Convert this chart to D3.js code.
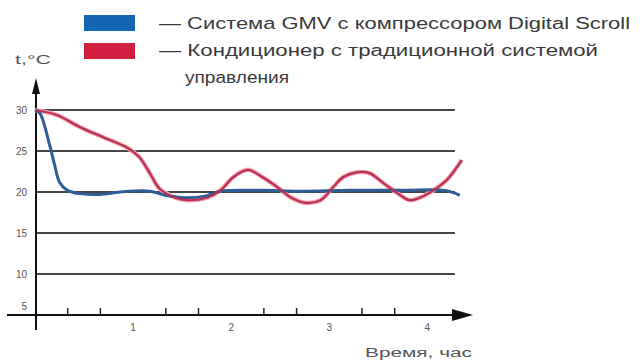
<!DOCTYPE html>
<html><head><meta charset="utf-8">
<script src="https://cdn.jsdelivr.net/npm/d3@7"></script>
<style>html,body{margin:0;padding:0;background:#fff;}svg{display:block;}</style>
</head><body>
<svg id="c" width="640" height="361"></svg>
<script>
// ---- data ----
const seriesNames = ["— Система GMV с компрессором Digital Scroll", "— Кондиционер с традиционной системой", "управления"];
const yTicks = [30, 25, 20, 15, 10, 5];
const xTickLabels = [1, 2, 3, 4];
const xMinorTicks = [1/3, 2/3, 4/3, 5/3, 7/3, 8/3, 10/3, 11/3];
const gmvTime = [0, 0.05, 0.15, 0.20, 0.25, 0.33, 0.46, 0.66, 0.87, 1.17, 1.33, 1.53, 1.73, 1.89, 2.29, 2.70, 3.21, 3.72, 4.18, 4.33];
const gmvTemp = [30, 29.6, 25.7, 23.3, 21.2, 20.2, 19.8, 19.7, 20.0, 20.1, 19.6, 19.3, 19.5, 20.1, 20.2, 20.1, 20.2, 20.2, 20.2, 19.6];
const tradTime = [0, 0.22, 0.46, 0.69, 0.94, 1.06, 1.17, 1.27, 1.43, 1.55, 1.75, 1.89, 2.02, 2.17, 2.32, 2.47, 2.60, 2.75, 2.91, 3.04, 3.14, 3.28, 3.41, 3.55, 3.69, 3.82, 3.92, 4.06, 4.20, 4.35];
const tradTemp = [30, 29.4, 27.9, 26.7, 25.4, 24.3, 22.3, 20.4, 19.3, 19.0, 19.3, 20.2, 21.8, 22.7, 21.8, 20.6, 19.4, 18.7, 19.0, 20.6, 21.8, 22.4, 22.3, 21.1, 19.9, 19.0, 19.3, 20.2, 21.5, 23.9];

const svg = d3.select("#c");
const x = d3.scaleLinear().domain([0, 4]).range([35, 427.4]);
const y = d3.scaleLinear().domain([5, 30]).range([315, 110]);
const FONT = "Liberation Sans, Arial, sans-serif";

// gridlines
svg.append("g").selectAll("line").data(yTicks.filter(v => v > 5)).join("line")
  .attr("x1", x(0)).attr("x2", x(4.28))
  .attr("y1", d => y(d)).attr("y2", d => y(d))
  .attr("stroke", "#454545").attr("stroke-width", 2);

// y labels
svg.append("g").selectAll("text").data(yTicks).join("text")
  .attr("x", 27).attr("y", d => d === 5 ? y(d) - 9 : y(d))
  .attr("dy", "0.35em").attr("text-anchor", "end")
  .attr("font-family", FONT).attr("font-size", 10)
  .attr("fill", "#555").text(d => d);

// x axis line + arrow
svg.append("line").attr("x1", 7).attr("x2", 458).attr("y1", y(5)).attr("y2", y(5))
  .attr("stroke", "#111").attr("stroke-width", 2);
svg.append("path").attr("d", `M${473},${y(5)} L${452},${y(5)-6} L${452},${y(5)+6} Z`).attr("fill", "#111");
// y axis line + arrow
svg.append("line").attr("x1", x(0) + 1).attr("x2", x(0) + 1).attr("y1", 330).attr("y2", 88)
  .attr("stroke", "#111").attr("stroke-width", 2);
svg.append("path").attr("d", `M${x(0)+1},${78} L${x(0)-3},${94} L${x(0)+5},${94} Z`).attr("fill", "#111");

// minor ticks
svg.append("g").selectAll("line").data(xMinorTicks).join("line")
  .attr("x1", d => x(d)).attr("x2", d => x(d))
  .attr("y1", y(5)).attr("y2", y(5) - 7)
  .attr("stroke", "#222").attr("stroke-width", 1.5);
// x labels
svg.append("g").selectAll("text").data(xTickLabels).join("text")
  .attr("x", d => x(d)).attr("y", y(5) + 12).attr("dy", "0.35em").attr("text-anchor", "middle")
  .attr("font-family", FONT).attr("font-size", 10)
  .attr("fill", "#555").text(d => d);

// axis titles
svg.append("text").attr("x", 365).attr("y", 357).attr("textLength", 107).attr("lengthAdjust", "spacingAndGlyphs")
  .attr("font-family", FONT).attr("font-size", 13).attr("fill", "#555").text("Время, час");
svg.append("text").attr("x", 15).attr("y", 64).attr("textLength", 36).attr("lengthAdjust", "spacingAndGlyphs")
  .attr("font-family", FONT).attr("font-size", 13).attr("fill", "#555").text("t,°C");

// lines
const line = d3.line().x(d => x(d[0])).y(d => y(d[1])).curve(d3.curveCatmullRom.alpha(0.5));
const gmv = gmvTime.map((t, i) => [t, gmvTemp[i]]);
const trad = tradTime.map((t, i) => [t, tradTemp[i]]);
svg.append("path").datum(trad).attr("d", line).attr("fill", "none").attr("stroke", "#f3a6b8").attr("stroke-width", 4.5);
svg.append("path").datum(gmv).attr("d", line).attr("fill", "none").attr("stroke", "#2e5e98").attr("stroke-width", 3);
svg.append("path").datum(trad).attr("d", line).attr("fill", "none").attr("stroke", "#b8304e").attr("stroke-width", 2.2);

// legend
const colors = ["#1565b5", "#d11f3f"];
svg.append("g").selectAll("rect").data(colors).join("rect")
  .attr("x", 84).attr("y", (d, i) => 15 + i * 28).attr("width", 51).attr("height", 16).attr("fill", d => d);
const legX = [159, 159, 185];
const legY = [29, 56, 83];
const legW = [471, 439, 104];
svg.append("g").selectAll("text").data(seriesNames).join("text")
  .attr("x", (d, i) => legX[i]).attr("y", (d, i) => legY[i])
  .attr("textLength", (d, i) => legW[i]).attr("lengthAdjust", "spacingAndGlyphs")
  .attr("font-family", FONT).attr("font-size", 16)
  .attr("fill", "#3a3a3a").text(d => d);
</script>
</body></html>
